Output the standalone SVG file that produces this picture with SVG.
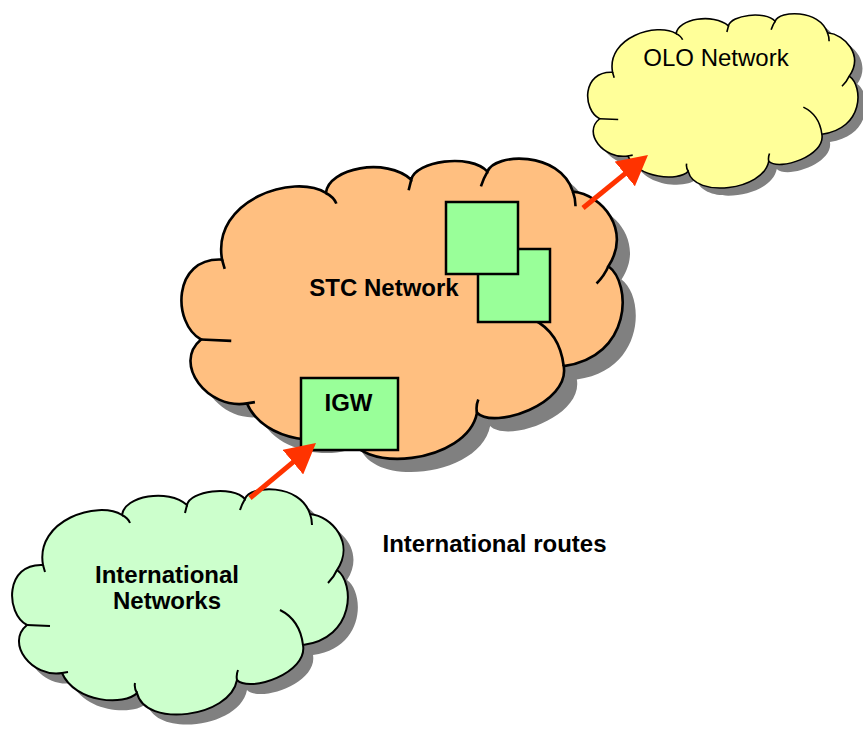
<svg xmlns="http://www.w3.org/2000/svg" xmlns:xlink="http://www.w3.org/1999/xlink" width="863" height="729" viewBox="0 0 863 729">
  <style>
    .shadow { fill: #808080; stroke: none; }
    .outline { stroke: #000; stroke-width: 2; vector-effect: non-scaling-stroke; stroke-linejoin: miter; }
    .tails { fill: none; stroke: #000; stroke-width: 2; vector-effect: non-scaling-stroke; }
    .box { fill: #99FF99; stroke: #000; stroke-width: 2.5; }
    .lbl { font-family: "Liberation Sans", Arial, sans-serif; font-size: 24px; fill: #000; text-anchor: middle; }
    .bold { font-weight: bold; }
    .arrow { stroke: #FF3300; stroke-width: 5; fill: none; }
  </style>
  <defs>
    <path id="cloudShape" d="M33,77 C25,32 88,12 112,27 C114,8 158,0 177,17 C180,3 222,-3 235,11 C240,-3 290,-5 300,26 C322,28 345,55 327,82 C345,95 345,150 293,157 C298,185 240,205 227,192 C220,230 135,240 127,205 C115,218 65,215 52,185 C22,190 -5,155 17,137 C-5,125 -5,75 33,77 Z"/>
    <path id="cloudTails" d="M112,27 Q118,30 120,35 M177,17 Q176,21 175,25 M235,11 Q232,16 230,22 M300,26 Q302,31 302,37 M327,82 Q324,89 318,95 M270,122 Q290,132 293,157 M227,192 Q226,187 228,182 M127,205 Q124,200 125,195 M52,185 L58,184 M17,137 L40,138 M33,77 L35,84"/>
    <marker id="head" viewBox="0 0 30 32" refX="10" refY="16" markerWidth="30" markerHeight="32" markerUnits="userSpaceOnUse" orient="auto">
      <path d="M0,0 L30,16 L0,32 Z" fill="#FF3300"/>
    </marker>
  </defs>

  <g id="intl-networks" transform="translate(10,488)">
    <use xlink:href="#cloudShape" class="shadow" transform="translate(10,10)"/>
    <use xlink:href="#cloudShape" class="outline" fill="#CCFFCC"/>
    <use xlink:href="#cloudTails" class="tails"/>
  </g>
  <text class="lbl bold" x="167" y="583">International</text>
  <text class="lbl bold" x="167" y="609">Networks</text>

  <g id="stc-network">
    <g transform="translate(178.7,157) scale(1.314,1.332)">
      <use xlink:href="#cloudShape" class="shadow" transform="translate(10,10)"/>
      <use xlink:href="#cloudShape" class="outline" fill="#FFBF80"/>
      <use xlink:href="#cloudTails" class="tails"/>
    </g>
    <text class="lbl bold" x="384" y="296">STC Network</text>
  </g>

  <g id="olo-network">
    <g transform="translate(586,12.7) scale(0.805,0.774)">
      <use xlink:href="#cloudShape" class="shadow" transform="translate(10,10)"/>
      <use xlink:href="#cloudShape" class="outline" fill="#FFFF99"/>
      <use xlink:href="#cloudTails" class="tails"/>
    </g>
    <text class="lbl" x="716" y="66">OLO Network</text>
  </g>

  <g id="switch-b">
    <rect class="box" x="478" y="249" width="72" height="73"/>
  </g>
  <g id="switch-a">
    <rect class="box" x="446" y="202" width="72" height="72"/>
  </g>
  <g id="igw">
    <rect class="box" x="301" y="378" width="97" height="72"/>
    <text class="lbl bold" x="348.5" y="411">IGW</text>
  </g>

  <g id="connectors">
    <line class="arrow" x1="250" y1="498" x2="300.6" y2="455.8" marker-end="url(#head)"/>
    <line class="arrow" x1="583" y1="208" x2="632.5" y2="167.6" marker-end="url(#head)"/>
  </g>

  <text id="routes-label" class="lbl bold" x="494.5" y="552">International routes</text>
</svg>
